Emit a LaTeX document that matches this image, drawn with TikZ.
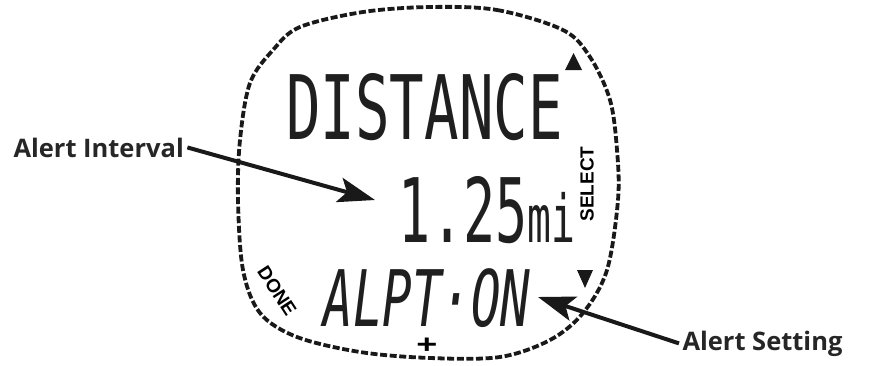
\documentclass[tikz,border=0pt]{standalone}
\usepackage{fontspec}
\setmainfont{Open Sans}
\setsansfont{Liberation Sans}
\setmonofont{DejaVu Sans Mono}
\usetikzlibrary{arrows.meta}

\begin{document}
\begin{tikzpicture}[x=1pt,y=-1pt,
  lcd/.style={inner sep=0pt, text=black!88, font=\ttfamily},
  keylbl/.style={inner sep=0pt, font=\sffamily\bfseries\fontsize{19}{19}\selectfont},
  callout/.style={font=\bfseries\fontsize{25.5}{25.5}\selectfont, text=black!85},
  pointer/.style={line width=4pt, black!90, -{Stealth[length=37pt,width=25pt,inset=8pt]}},
  bezel/.style={line width=3.8pt, dash pattern=on 7pt off 2.6pt, black!90}]
  \useasboundingbox (0,0) rectangle (869,365);
  \draw[bezel] plot[smooth cycle, tension=0.55] coordinates {
    (430,7) (497,10) (563,30) (590,57) (610,100) (617,150) (618,200) (607,270)
    (583,313) (550,340) (500,357) (430,358) (360,352) (297,337) (260,313)
    (243,270) (238,200) (240,140) (250,83) (273,50) (300,27) (363,12)};
  \node[lcd, xscale=0.645] (title) at (424.5,107.5) {\fontsize{89}{89}\selectfont DISTANCE};
  \node[lcd, xscale=0.6] (interval) at (487,210.5) {\fontsize{89}{89}\selectfont 1.25{\fontsize{66}{66}\selectfont mi}};
  \node[lcd, xscale=0.63] (setting) at (427,298.5) {\fontsize{78}{78}\selectfont\itshape ALPT·ON};
  \node[keylbl, rotate=90] (select) at (587,184) {SELECT};
  \node[keylbl, rotate=-57] (done) at (277,291) {DONE};
  \node[inner sep=0pt, xscale=1.5, yscale=1.1, font=\sffamily\bfseries\fontsize{24}{24}\selectfont] (plus) at (427,346) {+};
  \fill[black!90] (565,70) -- (582,70) -- (573.5,53) -- cycle;
  \fill[black!90] (577,270) -- (593,270) -- (585,288) -- cycle;
  \node[callout, anchor=base west] (alertint) at (10,157) {Alert Interval};
  \node[callout, anchor=base west] (alertset) at (679,350) {Alert Setting};
  \coordinate (intervaltip) at (375,200);
  \coordinate (settingtip) at (538,297);
  \draw[pointer] (alertint.east) -- (intervaltip);
  \draw[pointer] (alertset.west) -- (settingtip);
\end{tikzpicture}
\end{document}
